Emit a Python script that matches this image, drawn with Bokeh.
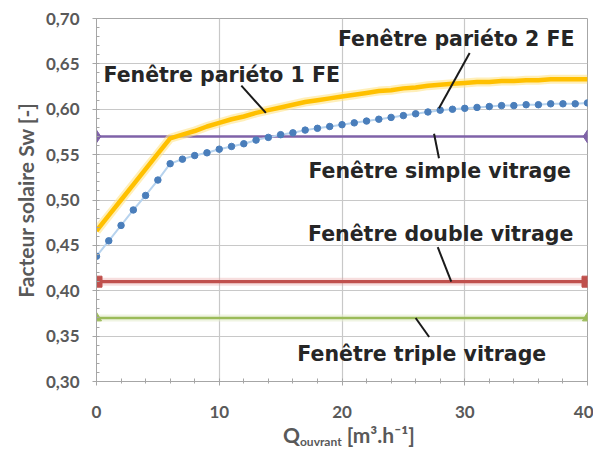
import math
from bokeh.plotting import figure
from bokeh.models import FixedTicker, Range1d, Div
from bokeh.layouts import column
from bokeh.core.properties import value
from bokeh.embed import file_html
from bokeh.resources import INLINE

# ---------------- data ----------------
q_flow = list(range(0, 41))
pariet_1fe = [0.466, 0.483, 0.500, 0.517, 0.534, 0.551, 0.568, 0.572, 0.576, 0.581,
              0.585, 0.589, 0.592, 0.596, 0.599, 0.602, 0.605, 0.608, 0.610, 0.612,
              0.614, 0.616, 0.618, 0.620, 0.621, 0.623, 0.624, 0.626, 0.627, 0.628,
              0.629, 0.630, 0.630, 0.631, 0.631, 0.632, 0.632, 0.633, 0.633, 0.633,
              0.633]
pariet_2fe = [0.438, 0.455, 0.472, 0.489, 0.505, 0.522, 0.540, 0.545, 0.549, 0.552,
              0.556, 0.559, 0.562, 0.566, 0.569, 0.572, 0.574, 0.577, 0.579, 0.581,
              0.583, 0.585, 0.587, 0.589, 0.591, 0.593, 0.595, 0.597, 0.599, 0.600,
              0.601, 0.602, 0.603, 0.604, 0.604, 0.605, 0.605, 0.606, 0.606, 0.606,
              0.607]
q_ends = [0, 40]
simple_vitrage = [0.57, 0.57]
double_vitrage = [0.41, 0.41]
triple_vitrage = [0.37, 0.37]

y_ticks = [0.30, 0.35, 0.40, 0.45, 0.50, 0.55, 0.60, 0.65, 0.70]
y_tick_labels = ["0,30", "0,35", "0,40", "0,45", "0,50", "0,55", "0,60", "0,65", "0,70"]
x_ticks = [0, 10, 20, 30, 40]

ann_texts = ["Fenêtre pariéto 1 FE", "Fenêtre pariéto 2 FE", "Fenêtre simple vitrage",
             "Fenêtre double vitrage", "Fenêtre triple vitrage"]
ann_x = [10.2, 29.3, 27.96, 28.04, 26.5]
ann_y = [0.638, 0.677, 0.532, 0.462, 0.330]
lead_x0 = [11.8, 30.4, 27.5, 27.8, 26.0]
lead_y0 = [0.626, 0.662, 0.573, 0.448, 0.370]
lead_x1 = [13.8, 27.9, 27.9, 28.9, 27.1]
lead_y1 = [0.596, 0.601, 0.546, 0.410, 0.349]

y_title = "Facteur solaire Sw [-]"
x_title_main = "Q"
x_title_sub = "ouvrant"
x_title_unit = "[m³.h⁻¹]"

# ---------------- figure ----------------
p = figure(width=593, height=423, output_backend="svg", toolbar_location=None,
           x_range=Range1d(0, 40), y_range=Range1d(0.30, 0.70),
           min_border_left=96, min_border_right=6, min_border_top=18, min_border_bottom=42)
p.background_fill_color = "white"
p.border_fill_color = "white"
p.outline_line_color = "#A6A6A6"

p.xgrid.ticker = FixedTicker(ticks=x_ticks)
p.ygrid.ticker = FixedTicker(ticks=y_ticks)
p.xgrid.grid_line_color = "#C8C8C8"
p.ygrid.grid_line_color = "#C8C8C8"
p.xgrid.grid_line_width = 1.2
p.ygrid.grid_line_width = 1.2

x_minor = [v for v in range(0, 41, 2)]
y_minor = [round(0.30 + 0.01 * i, 2) for i in range(41)]
p.xaxis.ticker = FixedTicker(ticks=x_ticks, minor_ticks=x_minor)
p.yaxis.ticker = FixedTicker(ticks=y_ticks, minor_ticks=y_minor)
p.yaxis.major_label_overrides = {t: l for t, l in zip(y_ticks, y_tick_labels)}

for ax in (p.xaxis, p.yaxis):
    ax.axis_line_color = "#A6A6A6"
    ax.major_tick_line_color = "#A6A6A6"
    ax.minor_tick_line_color = "#A6A6A6"
    ax.major_label_text_font = "Lato"
    ax.major_label_text_font_style = "bold"
    ax.major_label_text_font_size = "17px"
    ax.major_label_text_color = "#595959"
    ax.major_tick_in = 0
    ax.major_tick_out = 4
p.yaxis.minor_tick_in = 3
p.yaxis.minor_tick_out = 0
p.xaxis.minor_tick_in = 3
p.xaxis.minor_tick_out = 2
p.yaxis.major_label_standoff = 13
p.xaxis.major_label_standoff = 20

p.yaxis.axis_label = y_title
p.yaxis.axis_label_text_font = "Lato"
p.yaxis.axis_label_text_font_style = "bold"
p.yaxis.axis_label_text_font_size = "21px"
p.yaxis.axis_label_text_color = "#595959"
p.yaxis.axis_label_standoff = 5

# horizontal reference lines
p.line(q_ends, double_vitrage, line_color="#E8A0A0", line_width=8, line_alpha=0.35)
p.line(q_ends, simple_vitrage, line_color="#7F62A8", line_width=2.5)
p.scatter(q_ends, simple_vitrage, marker="diamond", size=13, fill_color="#7F62A8", line_color="#7F62A8")
p.line(q_ends, double_vitrage, line_color="#C0504D", line_width=3.2)
p.scatter(q_ends, double_vitrage, marker="square", size=11, fill_color="#C0504D", line_color="#C0504D")
p.line(q_ends, triple_vitrage, line_color="#E4EDCF", line_width=7, line_alpha=0.6)
p.line(q_ends, triple_vitrage, line_color="#9BBB59", line_width=2.5)
p.scatter(q_ends, triple_vitrage, marker="triangle", size=10, fill_color="#9BBB59", line_color="#9BBB59")

# pariéto curves
p.line(q_flow, pariet_2fe, line_color="#B7D3EE", line_width=2)
p.scatter(q_flow, pariet_2fe, marker="circle", size=6.5, fill_color="#4A7EBB", line_color="#4A7EBB")
p.line(q_flow, pariet_1fe, line_color="#FFE48A", line_width=9, line_alpha=0.6)
p.line(q_flow, pariet_1fe, line_color="#FFC000", line_width=4.5)

# annotations
p.segment(lead_x0, lead_y0, lead_x1, lead_y1, line_color="#1A1A1A", line_width=2)
p.text(ann_x, ann_y, text=ann_texts, text_font=value("DejaVu Sans"), text_font_style="bold",
       text_font_size="20.5px", text_color="#262626", text_align="center", text_baseline="middle")

# x-axis title with subscript, as real HTML text under the chart
x_title_html = (
    '<div style="width:593px;height:26px;line-height:22px;padding-left:283px;padding-top:1px;'
    'box-sizing:border-box;font-family:Lato;font-weight:bold;font-size:21px;color:#595959;'
    'white-space:nowrap;">'
    f'{x_title_main}<span style="font-size:12px;vertical-align:-3px;">{x_title_sub}</span> '
    f'{x_title_unit}</div>'
)
x_title = Div(text=x_title_html, width=593, height=26, margin=0)

layout = column(p, x_title, spacing=0)

open("out.html", "w").write(file_html(layout, INLINE))
